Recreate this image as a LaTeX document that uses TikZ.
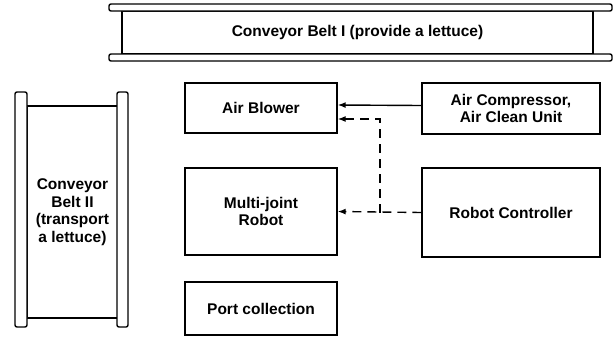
\documentclass[tikz,border=0pt]{standalone}
\usepackage{fontspec}
\setmainfont{Liberation Sans}
\usetikzlibrary{arrows.meta}

\begin{document}
\begin{tikzpicture}[x=1pt, y=-1pt, line width=1.4pt,
	every node/.style={font=\fontsize{15.5}{17.5}\selectfont\bfseries, align=center, inner sep=0pt},
	unit/.style={draw, minimum width=152pt},
	rail/.style={draw, fill=white, rounded corners=2pt},
	arr/.style={-{Latex[length=8pt,width=6pt]}},
	dasharr/.style={arr, dash pattern=on 9pt off 6pt}]
	\useasboundingbox (0,0) rectangle (616,341);
	\node[draw, minimum width=471pt, minimum height=43pt] (belt1) at (357.5,32.5) {Conveyor Belt I (provide a lettuce)};
	\draw[rail] (109,4) rectangle (612,11);
	\draw[rail] (109,54) rectangle (612,61);
	\node[draw, minimum width=91pt, minimum height=212pt] (belt2) at (72.5,212) {Conveyor\\Belt II\\(transport\\a lettuce)};
	\draw[rail] (15,92) rectangle (27,327);
	\draw[rail] (117,92) rectangle (128,327);
	\node[unit, minimum height=50pt] (blower) at (261,108) {Air Blower};
	\node[unit, minimum width=178pt, minimum height=51pt] (comp) at (511,108.5) {Air Compressor,\\Air Clean Unit};
	\node[unit, minimum height=87pt] (robot) at (261,211.5) {Multi-joint\\Robot};
	\node[unit, minimum width=178pt, minimum height=89pt] (ctrl) at (511,212.5) {Robot Controller};
	\node[unit, minimum height=53pt] (port) at (261,308.5) {Port collection};
	\coordinate (jn) at (380,212.5);
	\draw[arr] ([yshift=3pt]comp.west) -- ([yshift=3pt]blower.east);
	\draw[dasharr] (ctrl.west) -- (robot.east);
	\draw[dasharr] (jn) |- ([yshift=-11pt]blower.east);
\end{tikzpicture}
\end{document}
